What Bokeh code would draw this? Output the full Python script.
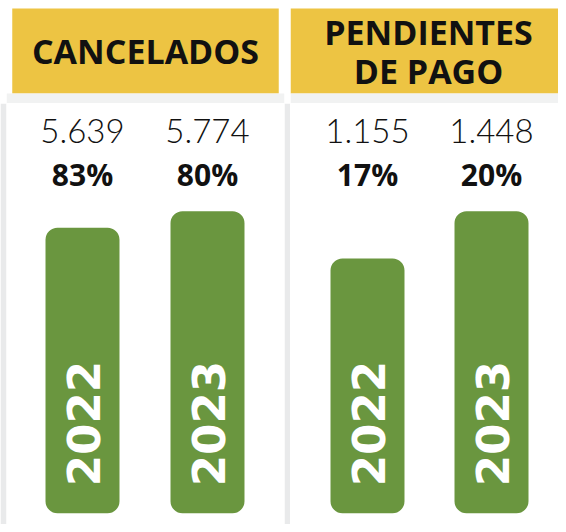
import math
from bokeh.plotting import figure
from bokeh.layouts import row, column
from bokeh.models import Range1d
from bokeh.core.properties import value
from bokeh.embed import file_html
from bokeh.resources import INLINE

# ---------------- data ----------------
TITLES = [["CANCELADOS"], ["PENDIENTES", "DE PAGO"]]
YEARS = ["2022", "2023"]
CANCELADOS = [5639, 5774]
CANCELADOS_PCT = ["83%", "80%"]
PENDIENTES = [1155, 1448]
PENDIENTES_PCT = ["17%", "20%"]

# value-axis domains of each panel (truncated axes, as in the original)
Y_DOMAINS = [(3226, 6650), (-493, 2115)]
BAR_FLOOR = [3318, -423]

# ---------------- style ----------------
YELLOW = "#EDC443"
GREEN = "#6A963F"
GUTTER = "#E9EAEB"
SHADOW = "#F1F2F2"
HEAD_FONT = value("Open Sans")
NUM_FONT = value("Lato Light, Lato")
YEAR_FONT = value("DejaVu Sans")

HEAD_H, BODY_H = 103, 421
COL_W = [290, 268]


def bare(w, h, xr, yr, left=0, right=0, border_color="white"):
    p = figure(width=w, height=h, x_range=xr, y_range=yr,
               output_backend="svg", toolbar_location=None,
               x_axis_location=None, y_axis_location=None,
               min_border=0, min_border_left=left, min_border_right=right)
    p.grid.visible = False
    p.outline_line_color = None
    p.background_fill_color = "white"
    p.border_fill_color = border_color
    return p


def header(lines, w, box_l, box_r, text_x):
    p = bare(w, HEAD_H, Range1d(0, w), Range1d(0, HEAD_H))
    p.quad(left=[box_l], right=[box_r], bottom=[10], top=[HEAD_H - 8],
           fill_color=YELLOW, line_color=None)
    p.quad(left=[0], right=[w], bottom=[0], top=[10],
           fill_color=SHADOW, line_color=None)
    mid = (10 + HEAD_H - 8) / 2
    n = len(lines)
    ys = [mid + (n - 1) * 19.5 - i * 39 for i in range(n)]
    p.text(x=[text_x] * n, y=ys, text=lines,
           text_font=HEAD_FONT, text_font_style="bold", text_font_size="34px",
           text_color="#111111", text_align="center", text_baseline="middle")
    return p


def body(values, pcts, domain, floor, centers_px, w, left, right):
    fw = w - left - right
    step = centers_px[1] - centers_px[0]
    x0 = -centers_px[0] / step
    xr = Range1d(x0, x0 + fw / step)
    yr = Range1d(*domain)
    p = bare(w, BODY_H, xr, yr, left=left, right=right, border_color=GUTTER)
    xs = list(range(len(values)))
    p.vbar(x=xs, width=74 / step, bottom=[floor] * len(values), top=values,
           fill_color=GREEN, line_color=None, border_radius=12)
    labels = [f"{v:,}".replace(",", ".") for v in values]
    p.text(x=xs, y=[domain[1]] * len(xs), text=labels, y_offset=27,
           text_font=NUM_FONT, text_font_size="33px", text_color="#111111",
           text_align="center", text_baseline="middle")
    p.text(x=xs, y=[domain[1]] * len(xs), text=pcts, y_offset=71,
           text_font=HEAD_FONT, text_font_style="bold", text_font_size="30px",
           text_color="#111111", text_align="center", text_baseline="middle")
    p.text(x=xs, y=[floor] * len(xs), text=YEARS, angle=math.pi / 2,
           y_offset=-27, x_offset=1,
           text_font=YEAR_FONT, text_font_style="bold", text_font_size="45px",
           text_color="white", text_align="left", text_baseline="middle")
    return p


hl = header(TITLES[0], COL_W[0], 6, 284, 145)
hr = header(TITLES[1], COL_W[1], 0, COL_W[1], 138)
bl = body(CANCELADOS, CANCELADOS_PCT, Y_DOMAINS[0], BAR_FLOOR[0], (76, 201),
          COL_W[0], 6, 6)
br = body(PENDIENTES, PENDIENTES_PCT, Y_DOMAINS[1], BAR_FLOOR[1], (77, 201),
          COL_W[1], 0, 0)

layout = row(column(hl, bl), column(hr, br))

open("out.html", "w").write(file_html(layout, INLINE))
